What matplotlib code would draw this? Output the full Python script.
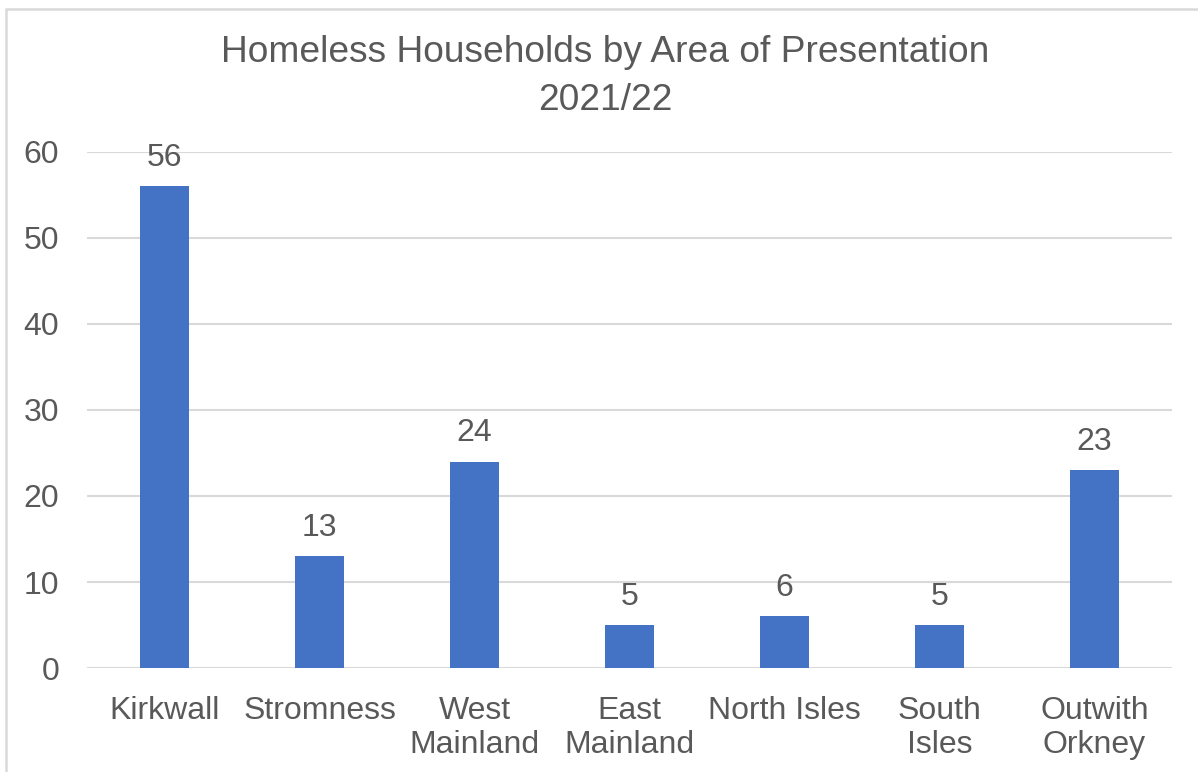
import matplotlib
matplotlib.use("Agg")
import matplotlib.pyplot as plt
from matplotlib.patches import Rectangle

areas = ["Kirkwall", "Stromness", "West\nMainland", "East\nMainland",
         "North Isles", "South\nIsles", "Outwith\nOrkney"]
households = [56, 13, 24, 5, 6, 5, 23]
y_ticks = [0, 10, 20, 30, 40, 50, 60]

TEXT = "#595959"
BAR = "#4472C4"
GRID = "#D9D9D9"

plt.rcParams["font.family"] = ["Liberation Sans", "DejaVu Sans"]

W, H = 1198, 772
fig = plt.figure(figsize=(W / 100, H / 100), dpi=100)
ax = fig.add_axes([87 / W, 1 - 668 / H, (1172 - 87) / W, (668 - 152) / H])

x = range(len(areas))
bars = ax.bar(x, households, width=0.316, color=BAR, zorder=3)
for rect, v in zip(bars, households):
    ax.annotate(str(v), (rect.get_x() + rect.get_width() / 2, v),
                xytext=(0, 14.5), textcoords="offset points",
                ha="center", va="baseline", fontsize=23, color=TEXT)

ax.set_xlim(-0.5, len(areas) - 0.5)
ax.set_ylim(0, 60)
ax.set_yticks(y_ticks)
ax.set_xticks(list(x))
ax.set_xticklabels(areas, linespacing=1.2)
ax.tick_params(axis="both", length=0, labelsize=23, labelcolor=TEXT)
ax.tick_params(axis="y", pad=20)
ax.tick_params(axis="x", pad=20)
ax.yaxis.grid(True, color=GRID, linewidth=1.5, zorder=0)
for s in ax.spines.values():
    s.set_visible(False)

fig.text(605 / W, 1 - 53 / H, "Homeless Households by Area of Presentation",
         ha="center", va="center", fontsize=26.7, color=TEXT)
fig.text(605 / W, 1 - 100 / H, "2021/22",
         ha="center", va="center", fontsize=26.7, color=TEXT)

# chart-area outline (only top/left edges fall inside the canvas)
fig.patches.append(Rectangle((6 / W, -0.1), 2, 1 - 9 / H + 0.1,
                             transform=fig.transFigure, fill=False,
                             edgecolor=GRID, linewidth=1.8))

fig.savefig("out.png", dpi=100)
